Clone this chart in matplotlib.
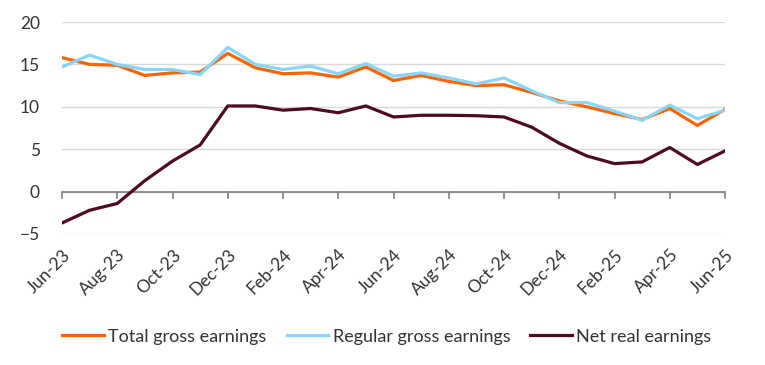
import matplotlib
matplotlib.use("Agg")
import matplotlib.pyplot as plt
import numpy as np
import pandas as pd

# monthly data, Jun-23 .. Jun-25
months = pd.date_range("2023-06-01", "2025-06-01", freq="MS")
total_gross = [15.8, 15.0, 14.9, 13.7, 14.0, 14.1, 16.3, 14.6, 13.9, 14.0, 13.5, 14.7, 13.1,
               13.7, 13.0, 12.5, 12.6, 11.7, 10.7, 10.0, 9.2, 8.5, 9.8, 7.8, 9.7]
regular_gross = [14.7, 16.1, 15.0, 14.4, 14.4, 13.8, 17.0, 15.0, 14.4, 14.8, 13.9, 15.1, 13.6,
                 14.0, 13.4, 12.7, 13.4, 11.9, 10.5, 10.5, 9.5, 8.4, 10.2, 8.6, 9.6]
net_real = [-3.7, -2.2, -1.4, 1.3, 3.6, 5.5, 10.1, 10.1, 9.6, 9.8, 9.3, 10.1, 8.8,
            9.0, 9.0, 8.95, 8.8, 7.6, 5.7, 4.2, 3.3, 3.5, 5.2, 3.2, 4.8]
series_names = ["Total gross earnings", "Regular gross earnings", "Net real earnings"]
y_ticks = [-5, 0, 5, 10, 15, 20]

colors = ["#FF6200", "#89D6FD", "#4D0A22"]
text_col = "#333333"

plt.rcParams['font.family'] = ['Lato', 'DejaVu Sans']

fig = plt.figure(figsize=(7.65, 3.65), dpi=100)
ax = fig.add_axes([62 / 765, 1 - 234 / 365, (725 - 62) / 765, (234 - 22) / 365])

x = np.arange(len(months))
for vals, name, c in zip([total_gross, regular_gross, net_real], series_names, colors):
    ax.plot(x, vals, color=c, lw=2.3, label=name, zorder=3)

ax.set_xlim(0, len(months) - 1)
ax.set_ylim(-5, 20)
ax.set_yticks(y_ticks)
ax.grid(axis="y", color="#D9D9D9", lw=1)
ax.set_axisbelow(True)
for s in ax.spines.values():
    s.set_visible(False)

# zero axis line with small tick marks
ax.axhline(0, color="#808080", lw=1.2, zorder=2)
tick_pos = x[::2]
for t in tick_pos:
    ax.plot([t, t], [0, -0.8], color="#808080", lw=1.2, zorder=2, clip_on=False)

ax.set_xticks(tick_pos)
ax.set_xticklabels([m.strftime("%b-%y") for m in months[::2]], rotation=45,
                   ha="right", va="top", rotation_mode="anchor")
ax.tick_params(axis="x", length=0, pad=9, labelsize=12.5, colors=text_col)
ax.tick_params(axis="y", length=0, pad=16, labelsize=12.5, colors=text_col)

ax.legend(loc="upper center", bbox_to_anchor=(0.49, -0.37), ncol=3, frameon=False,
          fontsize=13, handlelength=2.3, handletextpad=0.25, columnspacing=1.1,
          labelcolor=text_col)

fig.savefig("out.png", dpi=100)
